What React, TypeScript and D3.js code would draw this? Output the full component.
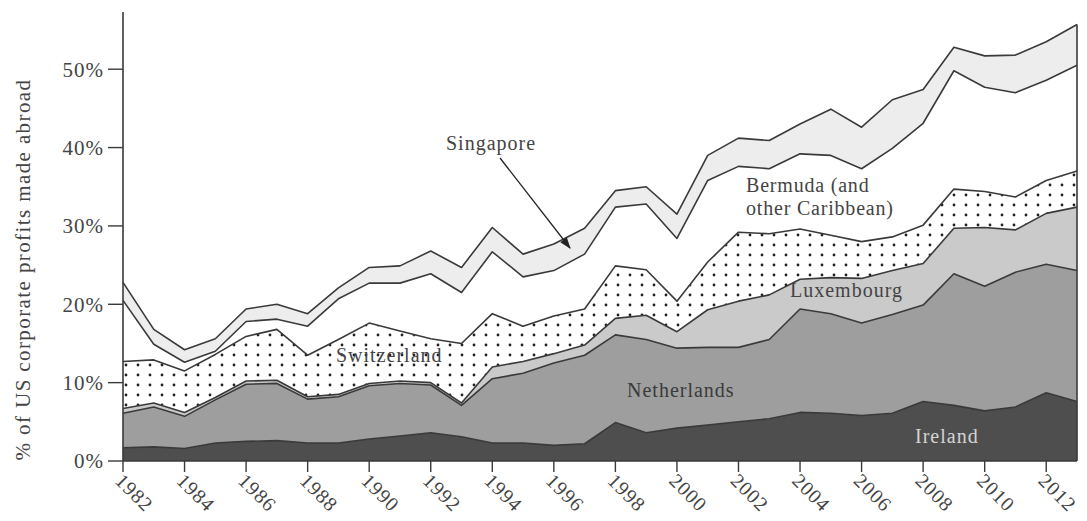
import * as d3 from 'd3';

const years = [
  1982, 1983, 1984, 1985, 1986, 1987, 1988, 1989, 1990, 1991, 1992, 1993, 1994, 1995, 1996, 1997,
  1998, 1999, 2000, 2001, 2002, 2003, 2004, 2005, 2006, 2007, 2008, 2009, 2010, 2011, 2012, 2013
];

// share of US corporate profits made abroad, % (layer thickness, bottom to top)
const ireland = [
  1.7, 1.8, 1.6, 2.3, 2.5, 2.6, 2.3, 2.3, 2.8, 3.2, 3.6, 3.1, 2.3, 2.3, 2.0, 2.2,
  4.9, 3.6, 4.2, 4.6, 5.0, 5.4, 6.2, 6.1, 5.8, 6.1, 7.6, 7.1, 6.4, 6.9, 8.7, 7.6
];
const netherlands = [
  4.4, 5.1, 4.1, 5.5, 7.3, 7.3, 5.6, 5.9, 6.8, 6.7, 6.1, 4.0, 8.2, 8.9, 10.5, 11.3,
  11.2, 11.9, 10.2, 9.9, 9.5, 10.1, 13.2, 12.7, 11.8, 12.6, 12.3, 16.8, 15.9, 17.2, 16.4, 16.7
];
const luxembourg = [
  0.6, 0.5, 0.5, 0.3, 0.4, 0.4, 0.3, 0.3, 0.3, 0.3, 0.3, 0.3, 1.5, 1.5, 1.2, 1.3,
  2.1, 3.1, 2.1, 4.8, 5.9, 5.7, 3.8, 4.6, 5.7, 5.6, 5.3, 5.8, 7.5, 5.4, 6.5, 8.1
];
const switzerland = [
  6.0, 5.5, 5.3, 5.5, 5.7, 6.5, 5.3, 7.0, 7.7, 6.4, 5.6, 7.6, 6.8, 4.5, 4.8, 4.6,
  6.7, 5.8, 3.9, 6.1, 8.8, 7.8, 6.4, 5.4, 4.7, 4.3, 4.9, 5.0, 4.6, 4.2, 4.2, 4.6
];
const bermuda = [
  7.8, 2.0, 1.1, 0.4, 1.9, 1.3, 3.7, 5.2, 5.1, 6.1, 8.3, 6.5, 7.9, 6.3, 5.8, 7.0,
  7.5, 8.4, 8.0, 10.4, 8.4, 8.3, 9.6, 10.2, 9.3, 11.3, 13.0, 15.1, 13.3, 13.3, 12.8, 13.5
];
const singapore = [
  2.3, 1.9, 1.6, 1.6, 1.6, 1.9, 1.6, 1.4, 2.0, 2.2, 2.9, 3.2, 3.1, 2.9, 3.4, 3.3,
  2.1, 2.2, 3.1, 3.2, 3.6, 3.6, 3.8, 5.9, 5.3, 6.2, 4.3, 3.0, 4.0, 4.8, 4.9, 5.2
];

const seriesKeys = ['Ireland', 'Netherlands', 'Luxembourg', 'Switzerland', 'Bermuda', 'Singapore'];
const seriesValues = [ireland, netherlands, luxembourg, switzerland, bermuda, singapore];
const fills = ['#4e4e4e', '#9e9e9e', '#cacaca', 'url(#dots)', '#ffffff', '#ededed'];

const yTicks = [0, 10, 20, 30, 40, 50];
const xTicks = [1982, 1984, 1986, 1988, 1990, 1992, 1994, 1996, 1998, 2000, 2002, 2004, 2006, 2008, 2010, 2012];

const serif = '"Liberation Serif", "Times New Roman", serif';
const ink = '#3a3a3a';

export default function App() {
  const width = 1087;
  const height = 521;

  const x = d3.scaleLinear().domain([1982, 2013]).range([123, 1077]);
  const y = d3.scaleLinear().domain([0, 57.3]).range([461, 12]);

  const rows = years.map((yr, i) => {
    const r: any = { year: yr };
    seriesKeys.forEach((k, j) => { r[k] = seriesValues[j][i]; });
    return r;
  });
  const stacked = d3.stack<any>().keys(seriesKeys)(rows);

  const area = d3.area<any>()
    .x(d => x(d.data.year))
    .y0(d => y(d[0]))
    .y1(d => y(d[1]));
  const topLine = d3.line<any>()
    .x(d => x(d.data.year))
    .y(d => y(d[1]));

  const last = stacked[stacked.length - 1];
  const total = last[last.length - 1][1];

  return (
    <svg width={width} height={height} style={{ position: 'absolute', left: 0, top: 0, background: '#fff' }}>
      <defs>
        <pattern id="dots" patternUnits="userSpaceOnUse" width={12} height={10}>
          <rect width={12} height={10} fill="#fff" />
          <circle cx={6} cy={5} r={1.4} fill="#222" />
        </pattern>
        <marker id="arrow" viewBox="0 0 10 10" refX={9} refY={5} markerWidth={9} markerHeight={9} orient="auto">
          <path d="M0,1.5 L10,5 L0,8.5 Z" fill="#222" />
        </marker>
      </defs>

      {/* stacked areas */}
      {stacked.map((s, i) => (
        <path key={seriesKeys[i]} d={area(s) || ''} fill={fills[i]} stroke="none" />
      ))}
      {stacked.map((s, i) => (
        <path key={'l' + seriesKeys[i]} d={topLine(s) || ''} fill="none" stroke={ink} strokeWidth={1.6} strokeLinejoin="round" />
      ))}
      <line x1={x(2013)} x2={x(2013)} y1={y(total)} y2={y(0)} stroke={ink} strokeWidth={1.6} />

      {/* y axis */}
      <line x1={123} x2={123} y1={y(57.3)} y2={y(0)} stroke={ink} strokeWidth={1.6} />
      {yTicks.map(t => (
        <g key={t}>
          <line x1={108} x2={123} y1={y(t)} y2={y(t)} stroke={ink} strokeWidth={1.4} />
          <text x={104} y={y(t)} dy="0.35em" textAnchor="end" fontFamily={serif} fontSize={21}
            letterSpacing={1} fill="#444">{t}%</text>
        </g>
      ))}
      <text transform={`translate(30, ${(y(0) + 70) / 2 + 4}) rotate(-90)`} textAnchor="middle"
        fontFamily={serif} fontSize={21} letterSpacing={1.4} fill="#444">
        % of US corporate profits made abroad
      </text>

      {/* x axis */}
      <line x1={123} x2={x(2013)} y1={y(0)} y2={y(0)} stroke={ink} strokeWidth={1.6} />
      {xTicks.map(t => (
        <g key={t}>
          <line x1={x(t)} x2={x(t)} y1={y(0)} y2={y(0) + 11} stroke={ink} strokeWidth={1.4} />
          <text transform={`translate(${x(t) - 9}, 482) rotate(45)`} fontFamily={serif} fontSize={20}
            letterSpacing={1} fill="#444">{t}</text>
        </g>
      ))}

      {/* labels */}
      <text x={446} y={150} fontFamily={serif} fontSize={20} letterSpacing={1} fill="#444">Singapore</text>
      <line x1={500} y1={158} x2={570} y2={248} stroke="#222" strokeWidth={1.3} markerEnd="url(#arrow)" />
      <text x={746} y={192} fontFamily={serif} fontSize={20} letterSpacing={0.8} fill="#444">Bermuda (and</text>
      <text x={746} y={215} fontFamily={serif} fontSize={20} letterSpacing={0.8} fill="#444">other Caribbean)</text>
      <text x={336} y={362} fontFamily={serif} fontSize={20} letterSpacing={1} fill="#444">Switzerland</text>
      <text x={790} y={297} fontFamily={serif} fontSize={20} letterSpacing={1} fill="#444">Luxembourg</text>
      <text x={627} y={397} fontFamily={serif} fontSize={20} letterSpacing={1} fill="#3a3a3a">Netherlands</text>
      <text x={915} y={443} fontFamily={serif} fontSize={20} letterSpacing={1} fill="#d4d4d4">Ireland</text>
    </svg>
  );
}
